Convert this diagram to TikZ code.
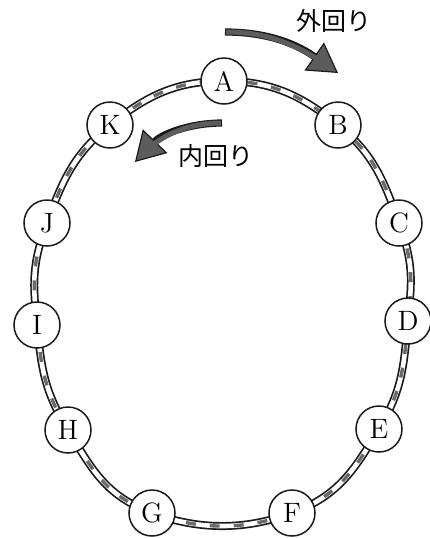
\documentclass[tikz,border=0pt]{standalone}
\usepackage{fontspec}
\usepackage{tikz}
\usepackage{xcolor}
\usetikzlibrary{arrows.meta}
\newfontfamily\jpfont{Noto Sans CJK JP}
\definecolor{ink}{HTML}{1A1A1A}
\definecolor{railgray}{HTML}{6A6A6A}
\definecolor{arrfill}{HTML}{5C5C5C}
\tikzset{
  station/.style={circle,draw=ink,fill=white,line width=0.75pt,
                  minimum size=23pt,inner sep=0pt,
                  font=\fontsize{14}{16}\selectfont},
  trackline/.style={draw=ink,line width=4pt,
                    postaction={draw=white,line width=2.3pt},
                    postaction={draw=railgray,line width=1.7pt,
                                dash pattern=on 5pt off 7pt}},
  turnarr/.style={draw=ink,line width=3.6pt,
                  -{Triangle[length=14.5pt,width=17pt,line width=0.6pt,
                             fill=arrfill]},
                  postaction={draw=arrfill,line width=2.5pt,-,
                              shorten <=0.55pt,shorten >=6pt}},
  dirlabel/.style={inner sep=0pt,font=\jpfont\fontsize{12.5}{14}\selectfont}
}
\begin{document}
\begin{tikzpicture}[x=0.5pt,y=-0.5pt]
    \path[use as bounding box] (0,0) rectangle (430,538);

    % stations on the loop
    \foreach \n/\x/\y in {A/224/81,B/338/125,C/399/223,D/408/321,
                          E/379/429,F/292/513,G/152/513,H/68/430,
                          I/37/325,J/47/223,K/110/125}
      \coordinate (p\n) at (\x,\y);

    \draw[trackline] plot[smooth cycle,tension=0.75] coordinates
      {(pA) (pB) (pC) (pD) (pE) (pF) (pG) (pH) (pI) (pJ) (pK)};

    \foreach \n in {A,B,C,D,E,F,G,H,I,J,K}
      \node[station] (\n) at (p\n) {\n};

    % direction arrows
    \coordinate (outS) at (225,32);
    \coordinate (outE) at (338,73);
    \draw[turnarr] (outS) .. controls (262,32) and (292,41) .. (outE);
    \node[dirlabel] (outer) at (334,21) {外回り};

    \coordinate (inS) at (222,123);
    \coordinate (inE) at (135,162);
    \draw[turnarr] (inS) .. controls (190,123) and (162,134) .. (inE);
    \node[dirlabel] (inner) at (216,156) {内回り};
  \end{tikzpicture}
\end{document}
